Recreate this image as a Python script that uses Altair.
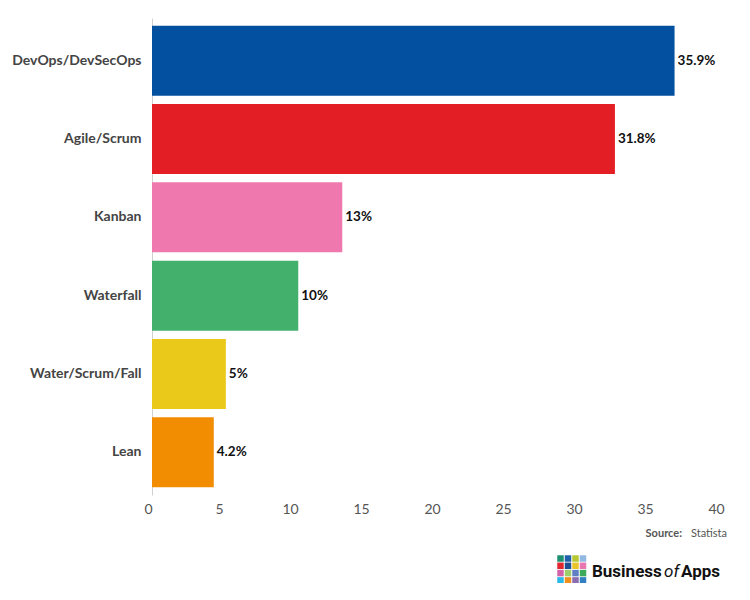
import altair as alt
import pandas as pd

categories = ["DevOps/DevSecOps", "Agile/Scrum", "Kanban", "Waterfall", "Water/Scrum/Fall", "Lean"]
bar_values = [36.8, 32.6, 13.4, 10.3, 5.2, 4.35]
value_labels = ["35.9%", "31.8%", "13%", "10%", "5%", "4.2%"]
colors = ["#02509f", "#e41e25", "#ef79ae", "#43b06b", "#ebc91b", "#f28c00"]
x_ticks = [0, 5, 10, 15, 20, 25, 30, 35, 40]

logo_colors = [
    "#1e8f6f", "#1f60ab", "#b6c832", "#92b9e1",
    "#e0272f", "#1d4f92", "#e9c52b", "#e877b1",
    "#d262a9", "#9ecd6b", "#5e7fc3", "#3ca95b",
    "#2ab7e9", "#f1911d", "#8b6cb1", "#3080c2",
]

df = pd.DataFrame({"cat": categories, "val": bar_values, "lab": value_labels, "color": colors})

FONT = "Lato"

y_enc = alt.Y("cat:N", sort=categories, title=None,
              scale=alt.Scale(paddingInner=0.106, paddingOuter=0.1),
              axis=alt.Axis(labelFont=FONT, labelFontWeight="bold", labelFontSize=14,
                            labelColor="#444444", labelPadding=11, ticks=False,
                            domain=True, domainColor="#d0d0d0", domainWidth=1, grid=False))
x_enc = alt.X("val:Q", title=None,
              scale=alt.Scale(domain=[0, 40], nice=False),
              axis=alt.Axis(values=x_ticks, labelFont=FONT, labelFontSize=14,
                            labelColor="#555555", labelPadding=7, labelOffset=-4, ticks=False,
                            domain=False, grid=False, labelFlush=False))

bars = alt.Chart(df).mark_bar().encode(
    x=x_enc, y=y_enc,
    color=alt.Color("color:N", scale=None, legend=None),
)

texts = alt.Chart(df).mark_text(align="left", baseline="middle", dx=3, font=FONT,
                                fontSize=13.5, fontWeight="bold", color="#111111").encode(
    x=alt.X("val:Q"), y=alt.Y("cat:N", sort=categories), text="lab:N",
)

src_df = pd.DataFrame({"a": ["Source:"], "b": ["Statista"]})
src1 = alt.Chart(src_df).mark_text(align="right", baseline="middle", font=FONT, fontSize=11,
                                   color="#555555").encode(
    x=alt.value(575), y=alt.value(516), text="b:N")
src2 = alt.Chart(src_df).mark_text(align="right", baseline="middle", font=FONT, fontSize=11,
                                   fontWeight="bold", color="#555555").encode(
    x=alt.value(530), y=alt.value(516), text="a:N")

logo_df = pd.DataFrame({
    "i": list(range(16)),
    "c": logo_colors,
})
logo_df["px"] = 408.5 + (logo_df["i"] % 4) * 7.5
logo_df["py"] = 540.5 + (logo_df["i"] // 4) * 7.3
logo = alt.Chart(logo_df).mark_square(size=42, opacity=1).encode(
    x=alt.X("px:Q", scale=None, axis=None), y=alt.Y("py:Q", scale=None, axis=None),
    color=alt.Color("c:N", scale=None, legend=None),
)
lt = pd.DataFrame({"t": ["x"]})
logo_t1 = alt.Chart(lt).mark_text(align="left", baseline="alphabetic", font="Roboto",
                                  fontSize=17, fontWeight="bold", color="#111111").encode(
    x=alt.value(440), y=alt.value(559), text=alt.value("Business"))
logo_t2 = alt.Chart(lt).mark_text(align="left", baseline="alphabetic", font="Roboto",
                                  fontSize=17, fontStyle="italic", color="#111111").encode(
    x=alt.value(512), y=alt.value(559), text=alt.value("of"))
logo_t3 = alt.Chart(lt).mark_text(align="left", baseline="alphabetic", font="Roboto",
                                  fontSize=17, fontWeight="bold", color="#111111").encode(
    x=alt.value(529), y=alt.value(559), text=alt.value("Apps"))

chart = alt.layer(bars, texts, src1, src2, logo, logo_t1, logo_t2, logo_t3).properties(
    width=568, height=477,
    autosize=alt.AutoSizeParams(type="none"),
    padding={"left": 144, "top": 10, "right": 20, "bottom": 88},
    background="white",
).configure_view(strokeWidth=0, strokeOpacity=0).configure_axis(grid=False)

chart.save("out.html", embed_options={"renderer": "svg", "actions": False})
